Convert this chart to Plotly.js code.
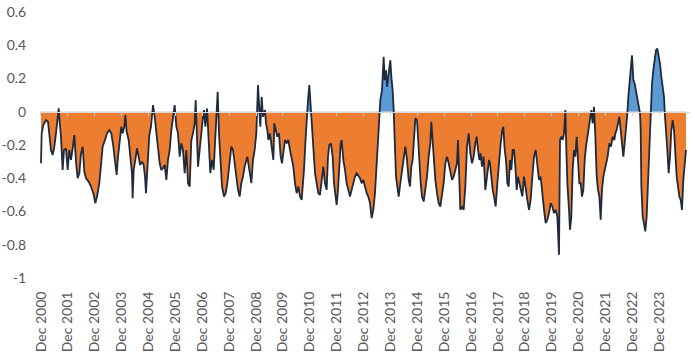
<!DOCTYPE html>
<html><head><meta charset="utf-8">
<script src="https://cdn.plot.ly/plotly-3.0.1.min.js"></script>
<style>html,body{margin:0;padding:0;background:#fff}#chart{width:695px;height:361px}</style>
</head><body><div id="chart"></div>
<script>
const years = [
2000.920,2000.945,2001.007,2001.106,2001.180,2001.230,2001.292,2001.354,2001.416,2001.478,2001.528,2001.577,2001.614,2001.664,2001.726,2001.776,2001.850,2001.912,2001.974,2002.036,2002.098,2002.160,2002.222,2002.284,2002.346,2002.408,2002.470,2002.532,2002.594,2002.693,2002.780,2002.867,2002.941,2003.003,2003.090,2003.165,2003.214,2003.301,2003.375,2003.462,2003.537,2003.611,2003.673,2003.735,2003.785,2003.859,2003.909,2003.958,2004.020,2004.057,2004.107,2004.181,2004.256,2004.305,2004.330,2004.367,2004.429,2004.491,2004.553,2004.603,2004.677,2004.739,2004.789,2004.826,2004.876,2004.950,2005.012,
2005.087,2005.149,2005.211,2005.273,2005.335,2005.397,2005.459,2005.521,2005.583,2005.645,2005.707,2005.769,2005.831,2005.893,2005.955,2006.017,2006.079,2006.141,2006.203,2006.265,2006.327,2006.389,2006.451,2006.513,2006.575,2006.637,2006.674,2006.724,2006.761,2006.823,2006.885,2006.947,2006.984,2007.034,2007.096,2007.158,2007.220,2007.282,2007.344,2007.381,2007.443,2007.493,2007.542,2007.604,2007.654,2007.728,2007.790,2007.852,2007.914,2008.001,2008.063,2008.125,2008.187,2008.249,2008.311,2008.373,2008.435,2008.497,2008.596,2008.683,2008.745,2008.807,2008.869,2008.931,2008.968,2008.993,2009.030,2009.080,2009.129,2009.179,
2009.253,2009.290,2009.340,2009.377,2009.439,2009.501,2009.563,2009.600,2009.650,2009.712,2009.774,2009.836,2009.885,2009.935,2009.997,2010.059,2010.121,2010.183,2010.245,2010.307,2010.369,2010.431,2010.493,2010.555,2010.617,2010.654,2010.704,2010.754,2010.803,2010.853,2010.902,2010.940,2010.977,2011.014,2011.064,2011.113,2011.175,2011.237,2011.299,2011.361,2011.423,2011.485,2011.547,2011.597,2011.646,2011.708,2011.770,2011.820,2011.870,2011.919,2011.969,2012.018,2012.068,2012.105,2012.167,2012.229,2012.291,2012.353,2012.415,2012.477,2012.539,2012.601,2012.663,2012.725,2012.787,2012.849,2012.911,2012.973,2013.035,2013.097,2013.159,2013.221,2013.283,2013.345,
2013.420,2013.457,2013.507,2013.544,2013.606,2013.668,2013.705,2013.755,2013.792,2013.829,2013.879,2013.916,2013.953,2014.003,2014.040,2014.077,2014.127,2014.176,2014.226,2014.288,2014.350,2014.412,2014.474,2014.536,2014.598,2014.648,2014.697,2014.747,2014.797,2014.846,2014.908,2014.945,2014.995,2015.045,2015.094,2015.156,2015.218,2015.280,2015.342,2015.404,2015.441,2015.491,2015.540,2015.590,2015.652,2015.714,2015.776,2015.838,2015.900,2015.962,2016.024,2016.086,2016.148,2016.210,2016.272,2016.334,2016.396,2016.433,2016.483,2016.520,2016.582,2016.644,2016.706,2016.768,2016.830,2016.892,2016.954,2017.016,2017.078,2017.127,2017.177,2017.227,2017.276,2017.326,2017.388,2017.450,2017.512,
2017.587,2017.624,2017.674,2017.723,2017.773,2017.835,2017.897,2017.959,2018.021,2018.083,2018.120,2018.170,2018.219,2018.269,2018.319,2018.368,2018.418,2018.467,2018.517,2018.567,2018.616,2018.666,2018.715,2018.765,2018.827,2018.889,2018.951,2019.013,2019.075,2019.137,2019.199,2019.261,2019.323,2019.385,2019.447,2019.509,2019.571,2019.633,2019.695,2019.757,2019.819,2019.881,2019.943,2020.005,2020.067,2020.129,2020.191,2020.228,2020.278,2020.328,2020.377,2020.427,2020.464,2020.501,2020.563,2020.600,2020.650,2020.699,2020.749,2020.798,2020.848,2020.898,2020.947,2020.997,2021.047,2021.096,2021.146,2021.196,2021.245,2021.295,2021.344,2021.394,2021.444,2021.493,2021.543,2021.593,2021.642,2021.692,
2021.741,2021.790,2021.840,2021.889,2021.939,2022.001,2022.063,2022.125,2022.187,2022.249,2022.286,2022.336,2022.385,2022.435,2022.485,2022.534,2022.584,2022.633,2022.683,2022.733,2022.770,2022.807,2022.857,2022.906,2022.956,2023.005,2023.055,2023.105,2023.154,2023.204,2023.229,2023.254,2023.303,2023.353,2023.402,2023.452,2023.501,2023.551,2023.601,2023.650,2023.700,2023.750,2023.799,2023.849,2023.898,2023.948,2023.998,2024.047,2024.097,2024.134,2024.171,2024.221,2024.270,2024.320,2024.370,2024.419,2024.469,2024.519,2024.568,2024.618,2024.667,2024.718,2024.766,2024.816,2024.866,2024.915
];
const values = [
-0.31,-0.13,-0.08,-0.05,-0.06,-0.13,-0.23,-0.26,-0.21,-0.13,-0.06,0.02,-0.06,-0.15,-0.35,-0.23,-0.22,-0.35,-0.23,-0.29,-0.22,-0.14,-0.30,-0.40,-0.37,-0.25,-0.21,-0.36,-0.40,-0.42,-0.45,-0.49,-0.55,-0.51,-0.43,-0.29,-0.21,-0.17,-0.13,-0.11,-0.13,-0.21,-0.31,-0.38,-0.27,-0.17,-0.09,-0.13,-0.09,-0.02,-0.12,-0.17,-0.29,-0.37,-0.52,-0.35,-0.29,-0.22,-0.27,-0.32,-0.30,-0.32,-0.39,-0.49,-0.35,-0.14,-0.09,
0.04,-0.03,-0.13,-0.23,-0.31,-0.35,-0.34,-0.32,-0.41,-0.29,-0.23,-0.11,-0.03,0.04,-0.09,-0.13,-0.27,-0.19,-0.23,-0.37,-0.23,-0.43,-0.45,-0.17,-0.13,-0.07,0.07,-0.11,-0.33,-0.23,-0.11,-0.03,0.01,-0.09,0.02,-0.15,-0.37,-0.29,-0.35,-0.23,-0.03,0.12,-0.13,-0.35,-0.45,-0.51,-0.49,-0.43,-0.33,-0.21,-0.23,-0.31,-0.37,-0.47,-0.51,-0.43,-0.39,-0.33,-0.27,-0.35,-0.43,-0.29,-0.23,-0.13,-0.01,0.16,0.05,-0.09,0.09,-0.03,
0.01,-0.07,-0.11,-0.17,-0.13,-0.23,-0.29,-0.07,-0.11,-0.15,-0.13,-0.27,-0.31,-0.23,-0.17,-0.19,-0.17,-0.23,-0.29,-0.33,-0.43,-0.49,-0.45,-0.51,-0.53,-0.47,-0.35,-0.19,-0.03,0.07,0.16,0.07,0.00,-0.15,-0.27,-0.37,-0.43,-0.49,-0.50,-0.43,-0.33,-0.43,-0.47,-0.27,-0.20,-0.19,-0.27,-0.43,-0.51,-0.56,-0.47,-0.29,-0.19,-0.17,-0.29,-0.35,-0.43,-0.47,-0.51,-0.47,-0.43,-0.39,-0.37,-0.39,-0.40,-0.43,-0.41,-0.45,-0.49,-0.51,-0.55,-0.64,-0.59,-0.49,
-0.29,-0.15,-0.01,0.07,0.13,0.33,0.19,0.25,0.15,0.21,0.27,0.31,0.21,0.13,0.01,-0.23,-0.39,-0.45,-0.51,-0.43,-0.35,-0.27,-0.21,-0.29,-0.41,-0.45,-0.33,-0.29,-0.15,-0.04,-0.05,-0.19,-0.29,-0.43,-0.51,-0.54,-0.47,-0.39,-0.27,-0.19,-0.06,-0.17,-0.33,-0.41,-0.49,-0.55,-0.57,-0.51,-0.43,-0.31,-0.27,-0.31,-0.37,-0.41,-0.39,-0.35,-0.31,-0.17,-0.47,-0.59,-0.57,-0.59,-0.45,-0.21,-0.13,-0.25,-0.31,-0.27,-0.19,-0.15,-0.23,-0.29,-0.25,-0.33,-0.27,-0.47,-0.39,
-0.29,-0.31,-0.41,-0.47,-0.51,-0.57,-0.43,-0.29,-0.19,-0.11,-0.09,-0.23,-0.29,-0.43,-0.45,-0.29,-0.35,-0.23,-0.23,-0.33,-0.47,-0.39,-0.43,-0.47,-0.51,-0.39,-0.47,-0.53,-0.59,-0.53,-0.39,-0.27,-0.23,-0.31,-0.41,-0.39,-0.51,-0.59,-0.67,-0.65,-0.61,-0.55,-0.57,-0.61,-0.59,-0.63,-0.86,-0.17,-0.15,-0.17,-0.13,0.01,-0.23,-0.43,-0.59,-0.71,-0.63,-0.35,-0.23,-0.27,-0.15,-0.31,-0.43,-0.43,-0.51,-0.47,-0.29,-0.21,-0.15,-0.11,-0.03,0.01,-0.07,0.03,-0.15,-0.39,-0.47,-0.51,
-0.65,-0.47,-0.39,-0.35,-0.31,-0.27,-0.19,-0.21,-0.15,-0.17,-0.13,-0.11,-0.07,-0.03,-0.11,-0.19,-0.27,-0.19,-0.11,-0.01,0.09,0.19,0.25,0.34,0.19,0.17,0.13,0.09,0.05,-0.01,-0.11,-0.45,-0.63,-0.69,-0.72,-0.63,-0.41,-0.15,0.03,0.17,0.25,0.33,0.37,0.38,0.33,0.29,0.21,0.13,0.09,-0.03,-0.15,-0.23,-0.37,-0.27,-0.11,-0.05,-0.11,-0.27,-0.39,-0.45,-0.51,-0.53,-0.59,-0.41,-0.31,-0.23
];
const tickYears = [2000,2001,2002,2003,2004,2005,2006,2007,2008,2009,2010,2011,2012,2013,2014,2015,2016,2017,2018,2019,2020,2021,2022,2023];
const yTickVals = [-1,-0.8,-0.6,-0.4,-0.2,0,0.2,0.4,0.6];
const yTickText = ['-1','-0.8','-0.6','-0.4','-0.2','0','0.2','0.4','0.6'];

const xTickVals = tickYears.map(y => y + 0.92);
const xTickText = tickYears.map(y => 'Dec ' + y);
const xRange = [2000.883, 2025.064];

const font = {family: 'Lato, "Open Sans", sans-serif', size: 14, color: '#595959'};

const traces = [
  {x: years, y: values, type: 'scatter', mode: 'none', fill: 'tozeroy', fillcolor: '#ED7D31', xaxis: 'x', yaxis: 'y', hoverinfo: 'skip'},
  {x: years, y: values, type: 'scatter', mode: 'none', fill: 'tozeroy', fillcolor: '#5B9BD5', xaxis: 'x', yaxis: 'y2', hoverinfo: 'skip'},
  {x: years, y: values, type: 'scatter', mode: 'lines', line: {color: '#1f2a3c', width: 1.8}, xaxis: 'x', yaxis: 'y3', hoverinfo: 'skip'},
  {x: [], y: [], type: 'scatter', mode: 'lines', xaxis: 'x2', yaxis: 'y3', hoverinfo: 'skip'}
];

const layout = {
  width: 695, height: 361,
  margin: {l: 40, r: 5, t: 12, b: 83},
  paper_bgcolor: '#ffffff', plot_bgcolor: 'rgba(0,0,0,0)',
  showlegend: false, font: font,
  xaxis: {range: xRange, anchor: 'y3', tickmode: 'array', tickvals: xTickVals, ticktext: xTickText,
          tickangle: -90, ticks: 'outside', ticklen: 7, tickcolor: 'rgba(0,0,0,0)',
          showgrid: false, zeroline: false, showline: false, tickfont: font},
  xaxis2: {range: xRange, overlaying: 'x', anchor: 'free', position: 0.625, side: 'bottom',
           tickmode: 'array', tickvals: xTickVals, showticklabels: false, ticks: 'outside', ticklen: 3,
           tickcolor: '#d9d9d9', showline: true, linecolor: '#d9d9d9', linewidth: 1,
           showgrid: false, zeroline: false},
  yaxis: {domain: [0, 0.625], range: [-1, 0], anchor: 'x', visible: false},
  yaxis2: {domain: [0.625, 1], range: [0, 0.6], anchor: 'x', visible: false},
  yaxis3: {domain: [0, 1], range: [-1, 0.6], anchor: 'x', tickmode: 'array', tickvals: yTickVals, ticktext: yTickText,
           ticks: 'outside', ticklen: 10, tickcolor: 'rgba(0,0,0,0)', showgrid: false, zeroline: false,
           showline: false, tickfont: font}
};

Plotly.newPlot('chart', traces, layout, {displayModeBar: false, staticPlot: true});
</script>
</body></html>
